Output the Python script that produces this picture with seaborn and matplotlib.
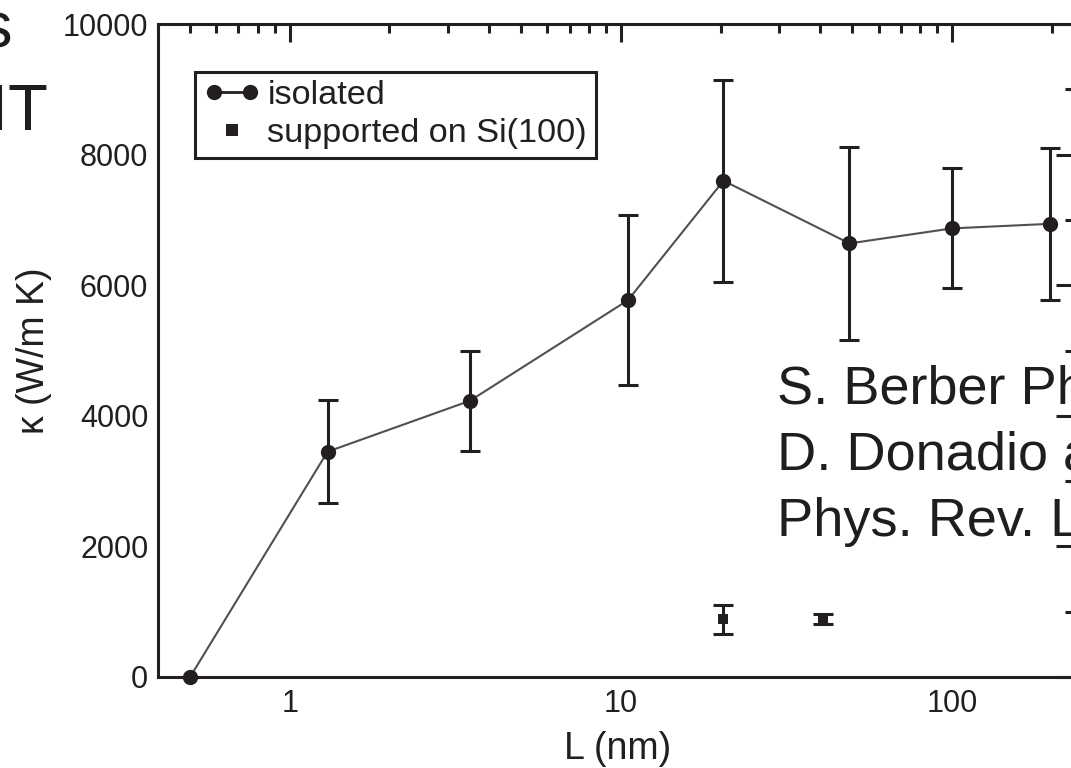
import numpy as np
import pandas as pd
import matplotlib
matplotlib.use("Agg")
import matplotlib.pyplot as plt
import seaborn as sns
from matplotlib.lines import Line2D
from matplotlib.legend_handler import HandlerLine2D
from matplotlib.ticker import FixedLocator, NullFormatter, FixedFormatter

# ---- data ----
iso_L = [0.5, 1.3, 3.5, 10.5, 20.4, 49, 100, 198]
iso_k = [0, 3450, 4230, 5770, 7600, 6640, 6870, 6940]
iso_err = [0, 785, 762, 1300, 1550, 1480, 920, 1160]

sup_L = [20.3, 40.8]
sup_k = [883, 883]
sup_err = [222, 75]

x_ticks = [1, 10, 100]
x_ticklabels = ["1", "10", "100"]
y_ticks = [0, 2000, 4000, 6000, 8000, 10000]
y_ticklabels = ["0", "2000", "4000", "6000", "8000", "10000"]

legend_labels = ["isolated", "supported on Si(100)"]
x_label = "L (nm)"
y_label = "κ (W/m K)"
# slide text, as far as it is visible in the cropped picture
ref_lines = ["S. Berber Ph", "D. Donadio a", "Phys. Rev. L"]

# ---- style ----
sns.set_theme(style="white")
plt.rcParams["font.family"] = ["Liberation Sans", "DejaVu Sans"]
INK = "#231f20"

W, H = 1071, 768
fig = plt.figure(figsize=(W / 100, H / 100), dpi=100)
ax = fig.add_axes([158 / W, 1 - 677 / H, (1078 - 158) / W, (677 - 24) / H])

iso = pd.DataFrame({"L": iso_L, "k": iso_k})
sup = pd.DataFrame({"L": sup_L, "k": sup_k})

# error bars
ax.errorbar(iso_L, iso_k, yerr=iso_err, fmt="none", ecolor=INK,
            elinewidth=2.2, capsize=7.3, capthick=2.2, zorder=2, clip_on=False)
ax.errorbar(sup_L, sup_k, yerr=sup_err, fmt="none", ecolor=INK,
            elinewidth=2.2, capsize=7.3, capthick=2.2, zorder=2)

sns.lineplot(data=iso, x="L", y="k", ax=ax, color="#505050", linewidth=1.5,
             marker="o", markersize=11, markerfacecolor=INK, markeredgecolor=INK,
             markeredgewidth=0, zorder=3, clip_on=False, estimator=None, sort=False)
sns.scatterplot(data=sup, x="L", y="k", ax=ax, marker="s", s=62, color=INK,
                edgecolor=INK, linewidth=0, zorder=4)

ax.set_xscale("log")
ax.set_xlim(0.4, 240)
ax.set_ylim(0, 10000)

ax.xaxis.set_major_locator(FixedLocator(x_ticks))
ax.xaxis.set_major_formatter(FixedFormatter(x_ticklabels))
minor_x = [m * d for d in (0.1, 1, 10, 100) for m in range(2, 10)]
ax.xaxis.set_minor_locator(FixedLocator(minor_x))
ax.xaxis.set_minor_formatter(NullFormatter())
ax.yaxis.set_major_locator(FixedLocator(y_ticks))
ax.yaxis.set_major_formatter(FixedFormatter(y_ticklabels))
ax.yaxis.set_minor_locator(FixedLocator(list(range(1000, 10000, 2000))))

for s in ax.spines.values():
    s.set_visible(True)
    s.set_color(INK)
    s.set_linewidth(2.2)

ax.tick_params(axis="both", which="both", direction="in", top=True, right=True,
               colors=INK, width=2.2)
ax.tick_params(axis="x", which="major", length=13, pad=9, labelsize=22)
ax.tick_params(axis="x", which="minor", length=6.5)
ax.tick_params(axis="y", which="major", length=16, pad=7, labelsize=22)
ax.tick_params(axis="y", which="minor", length=9.5)
for lab in ax.get_xticklabels() + ax.get_yticklabels():
    lab.set_color(INK)

ax.set_xlabel(x_label, fontsize=27, color=INK, labelpad=8)
ax.set_ylabel(y_label, fontsize=27, color=INK, labelpad=8)
ax.grid(False)

# legend
h_iso = Line2D([], [], color=INK, linewidth=2.0, marker="o", markersize=11,
               markerfacecolor=INK, markeredgewidth=0)
h_sup = Line2D([], [], color=INK, linestyle="none", marker="s", markersize=8,
               markerfacecolor=INK, markeredgewidth=0)
leg = ax.legend([h_iso, h_sup], legend_labels, loc="upper left",
                bbox_to_anchor=(195 / W, 1 - 71.5 / H), bbox_transform=fig.transFigure,
                borderaxespad=0, fontsize=24.7, frameon=True, fancybox=False,
                borderpad=0.26, handlelength=1.65, handletextpad=0.2,
                labelspacing=0.18,
                handler_map={h_iso: HandlerLine2D(numpoints=2),
                             h_sup: HandlerLine2D(numpoints=1)})
leg.get_frame().set_edgecolor(INK)
leg.get_frame().set_linewidth(2.2)
leg.get_frame().set_facecolor("white")
leg.get_frame().set_alpha(1)
for t in leg.get_texts():
    t.set_color(INK)

# overlay slide text (cropped at the right edge in the reference)
for txt, yb in zip(ref_lines, [403, 470, 536]):
    fig.text(777 / W, 1 - yb / H, txt, fontsize=39, color="#1e1e1e",
             va="baseline", ha="left")
fig.text(-21 / W, 1 - 47 / H, "s", fontsize=47, color="#1e1e1e", va="baseline", ha="left")
fig.text(-9.5 / W, 1 - 130 / H, "IT", fontsize=47, color="#1e1e1e", va="baseline", ha="left")

fig.savefig("out.png", dpi=100)
